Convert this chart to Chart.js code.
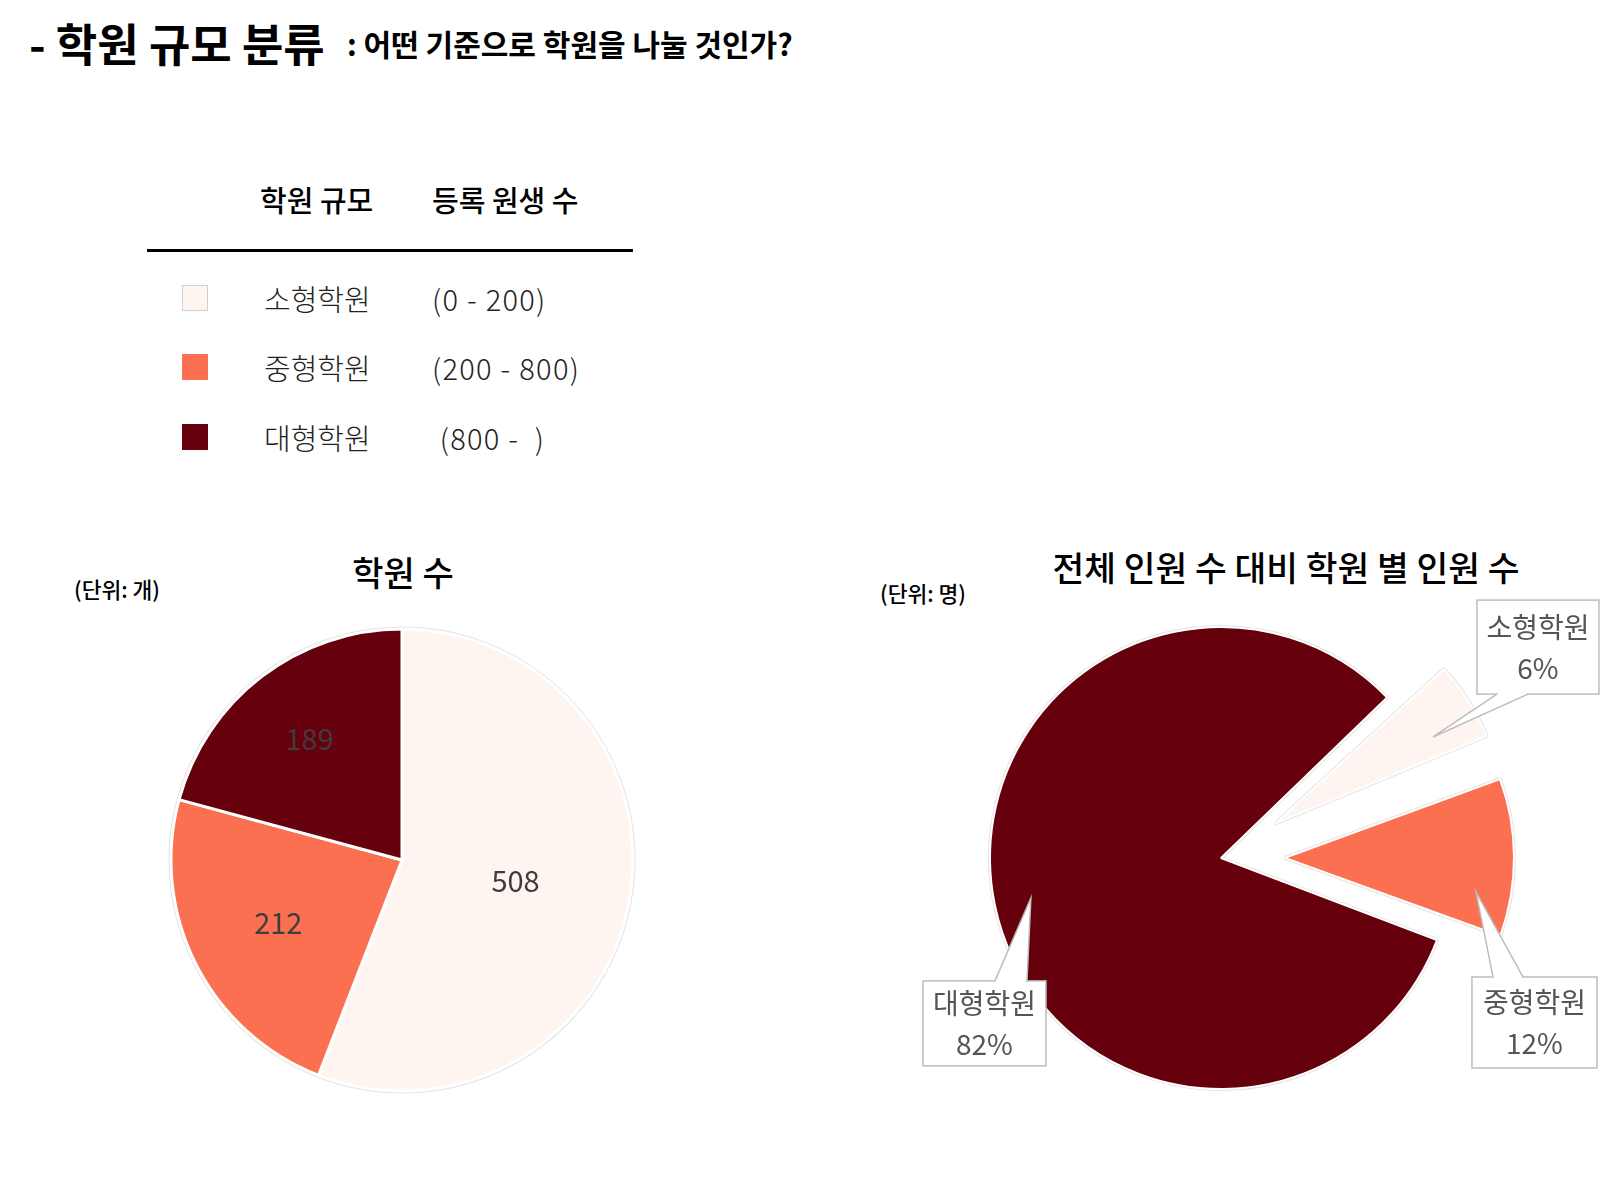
<!DOCTYPE html>
<html>
<head>
<meta charset="utf-8">
<script src="https://cdn.jsdelivr.net/npm/chart.js@4.4.1/dist/chart.umd.min.js"></script>
<style>
  body { margin: 0; width: 1600px; height: 1183px; overflow: hidden; background: #fff; position: relative;
         font-family: 'Noto Sans CJK KR', 'Noto Sans', sans-serif; color: #000; }
  .t { position: absolute; white-space: pre; line-height: 1; transform: translateY(-50%); }
  .c { transform: translate(-50%, -50%); }
  .sq { position: absolute; width: 26px; height: 26px; box-sizing: border-box; }
  canvas { position: absolute; }
</style>
</head>
<body>
<div class="t" style="left:29px;top:42px;font-size:45px;font-weight:700;">- 학원 규모 분류</div>
<div class="t" style="left:347px;top:43px;font-size:30px;font-weight:700;">: 어떤 기준으로 학원을 나눌 것인가?</div>

<div class="t" style="left:260px;top:199px;font-size:29px;font-weight:500;">학원 규모</div>
<div class="t" style="left:432px;top:199px;font-size:29px;font-weight:500;">등록 원생 수</div>
<div style="position:absolute;left:147px;top:249px;width:486px;height:2.5px;background:#000;"></div>
<div id="rows"></div>

<div class="t c" style="left:403px;top:572px;font-size:34px;font-weight:500;">학원 수</div>
<div class="t" style="left:74px;top:589px;font-size:21.5px;font-weight:500;">(단위: 개)</div>
<div class="t c" style="left:1286px;top:566px;font-size:34.5px;font-weight:500;">전체 인원 수 대비 학원 별 인원 수</div>
<div class="t" style="left:880px;top:593px;font-size:21.5px;font-weight:500;">(단위: 명)</div>

<canvas id="countPie" width="570" height="510" style="left:120px;top:610px;"></canvas>
<canvas id="sharePie" width="780" height="760" style="left:820px;top:480px;"></canvas>

<script>
// 학원 규모 구분
const sizeLabels = ['소형학원', '중형학원', '대형학원'];
const sizeRanges = ['(0 - 200)', '(200 - 800)', ' (800 -  )'];
const sliceColors = ['#fff5f0', '#fb7050', '#67000d'];

// 학원 수 (개)
const academyCounts = [508, 212, 189];
// 전체 인원 대비 비율 (%) - 그림에는 반올림해서 표시
const studentShares = [6.4, 11.6, 82.0];

// 표 (범례)
const rowY = [298, 367, 437];
const rows = document.getElementById('rows');
sizeLabels.forEach((name, i) => {
  const sq = document.createElement('div');
  sq.className = 'sq';
  sq.style.cssText = `left:182px;top:${rowY[i] - 13}px;background:${sliceColors[i]};` +
    (i === 0 ? 'border:1px solid #d0d0d0;' : '');
  rows.appendChild(sq);
  const a = document.createElement('div');
  a.className = 't';
  a.style.cssText = `left:264px;top:${rowY[i]}px;font-size:29px;font-weight:300;color:#222;`;
  a.textContent = name;
  rows.appendChild(a);
  const b = document.createElement('div');
  b.className = 't';
  b.style.cssText = `left:432px;top:${rowY[i]}px;font-size:29px;font-weight:300;color:#222;letter-spacing:1.3px;`;
  b.textContent = sizeRanges[i];
  rows.appendChild(b);
});

// 각 조각 바깥에 옅은 회색 테두리
const outline = {
  id: 'outline',
  beforeDatasetsDraw(chart) {
    const ctx = chart.ctx;
    chart.getDatasetMeta(0).data.forEach(arc => {
      const ghost = Object.create(arc);
      ghost.options = Object.assign({}, arc.options, {borderColor: '#e4e4e4', borderWidth: arc.options.borderWidth + 2});
      arc.draw.call(ghost, ctx);
    });
  }
};

// offset 을 주면 반지름도 커지므로 되돌려서 matplotlib explode 처럼 평행이동만 남김
const explodeFix = {
  id: 'explodeFix',
  afterDatasetsUpdate(chart) {
    chart.getDatasetMeta(0).data.forEach(arc => {
      const off = (arc.options.offset || 0) / 4;
      const fix = 1 - Math.sin(Math.min(Math.PI, arc.circumference));
      arc.outerRadius -= off * fix + (off ? 2 : 0);
    });
  }
};

const labelDist = [0.5, 0.6, 0.66];
const countLabels = {
  id: 'countLabels',
  afterDatasetsDraw(chart) {
    const ctx = chart.ctx;
    ctx.save();
    ctx.font = '29px "Noto Sans CJK KR"';
    ctx.fillStyle = '#3d3d3d';
    ctx.textAlign = 'center';
    ctx.textBaseline = 'middle';
    chart.getDatasetMeta(0).data.forEach((arc, i) => {
      const mid = (arc.startAngle + arc.endAngle) / 2;
      const r = arc.outerRadius * labelDist[i];
      ctx.fillText(String(academyCounts[i]), arc.x + Math.cos(mid) * r, arc.y + Math.sin(mid) * r);
    });
    ctx.restore();
  }
};

new Chart(document.getElementById('countPie'), {
  type: 'pie',
  data: {
    labels: sizeLabels,
    datasets: [{
      data: academyCounts,
      backgroundColor: sliceColors,
      borderColor: '#ffffff',
      borderWidth: 3
    }]
  },
  options: {
    responsive: false,
    animation: false,
    layout: {padding: {left: 49.5, right: 55.5, top: 17.5, bottom: 27.5}},
    plugins: {legend: {display: false}, tooltip: {enabled: false}}
  },
  plugins: [outline, countLabels]
});

// 말풍선 위치 (반지름 단위, 원 중심 기준)
const callouts = [
  {box: [1.372, -0.913], w: 122, h: 94, tip: [0.918, -0.524], edge: 'bottom', base: [-41, -10]},
  {box: [1.357, 0.712], w: 125, h: 91, tip: [1.104, 0.147], edge: 'top', base: [-41.5, -11.5]},
  {box: [-1.024, 0.716], w: 123, h: 85, tip: [-0.823, 0.173], edge: 'top', base: [10.5, 42.5]}
];

const shareCallouts = {
  id: 'shareCallouts',
  afterDraw(chart) {
    const ctx = chart.ctx;
    const main = chart.getDatasetMeta(0).data[2];
    const cx = main.x, cy = main.y, R = main.outerRadius;
    ctx.save();
    callouts.forEach((c, i) => {
      const bx = cx + c.box[0] * R, by = cy + c.box[1] * R;
      const tx = cx + c.tip[0] * R, ty = cy + c.tip[1] * R;
      const left = bx - c.w / 2, top = by - c.h / 2;
      ctx.fillStyle = '#ffffff';
      ctx.strokeStyle = '#bdbdbd';
      ctx.lineWidth = 1.5;
      ctx.fillRect(left, top, c.w, c.h);
      ctx.strokeRect(left, top, c.w, c.h);
      const ey = c.edge === 'top' ? top : top + c.h;
      const x0 = bx + c.base[0], x1 = bx + c.base[1];
      ctx.beginPath();
      ctx.moveTo(x0, ey); ctx.lineTo(tx, ty); ctx.lineTo(x1, ey); ctx.closePath();
      ctx.fill();
      ctx.fillRect(x0 + 1, ey - 1.5, x1 - x0 - 2, 3);
      ctx.beginPath();
      ctx.moveTo(x0, ey); ctx.lineTo(tx, ty); ctx.lineTo(x1, ey);
      ctx.stroke();
      ctx.font = '28px "Noto Sans CJK KR"';
      ctx.fillStyle = '#555555';
      ctx.textAlign = 'center';
      ctx.textBaseline = 'middle';
      ctx.fillText(sizeLabels[i], bx, by - 20);
      ctx.fillText(Math.round(studentShares[i]) + '%', bx, by + 21);
    });
    ctx.restore();
  }
};

new Chart(document.getElementById('sharePie'), {
  type: 'pie',
  data: {
    labels: sizeLabels,
    datasets: [{
      data: studentShares,
      backgroundColor: sliceColors,
      borderColor: '#ffffff',
      borderWidth: 2,
      offset: [256, 256, 0]
    }]
  },
  options: {
    responsive: false,
    animation: false,
    rotation: 46,
    layout: {padding: {left: 41, right: 19, top: 18, bottom: 22}},
    plugins: {legend: {display: false}, tooltip: {enabled: false}}
  },
  plugins: [explodeFix, outline, shareCallouts]
});
</script>
</body>
</html>
